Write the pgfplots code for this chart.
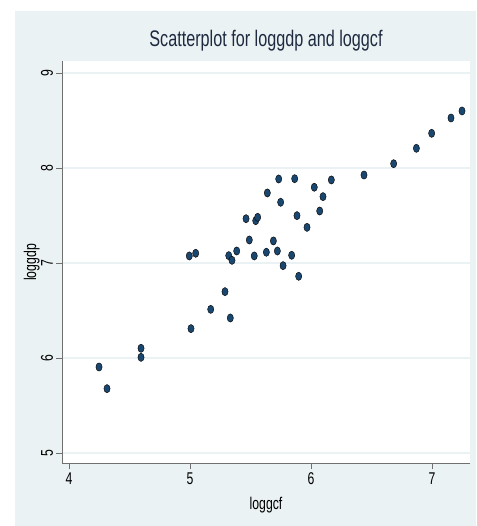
\documentclass[border=0pt]{standalone}
\usepackage{pgfplots}
\pgfplotsset{compat=1.18}
\usepackage{fontspec}
\setmainfont{Liberation Sans}[FakeStretch=0.72]
\definecolor{bgcol}{HTML}{EAF2F3}
\definecolor{mk}{HTML}{1A476F}
\definecolor{ttl}{HTML}{1E2A40}
\definecolor{axc}{HTML}{707070}
\begin{document}
\begin{tikzpicture}[x=1pt,y=1pt]
\fill[white] (0,0) rectangle (476,526);
\fill[bgcol] (15,0) rectangle (476,515);
\begin{axis}[
  at={(62pt,62pt)}, anchor=south west,
  scale only axis, width=408pt, height=403pt,
  xmin=3.942, xmax=7.314, ymin=4.884, ymax=9.126,
  axis background/.style={fill=white},
  axis x line*=bottom, axis y line*=left,
  axis line style={axc, line width=1pt, -},
  xtick={4,5,6,7}, ytick={5,6,7,8,9},
  tick align=outside, major tick length=5.5pt,
  tick style={axc, line width=0.9pt},
  ymajorgrids, grid style={bgcol, line width=1.6pt},
  /pgf/number format/assume math mode=true,
  ticklabel style={font=\fontsize{17}{17}\selectfont, black},
  yticklabel style={rotate=90, anchor=south},
  xticklabel style={anchor=north},
  title={Scatterplot for loggdp and loggcf},
  title style={at={(axis description cs:0.5,1.0223)}, anchor=base, font=\fontsize{22.5}{22.5}\selectfont, ttl},
  xlabel={loggcf},
  xlabel style={at={(axis description cs:0.5,-0.1117)}, anchor=base, font=\fontsize{17}{17}\selectfont, black},
  ylabel={loggdp},
  ylabel style={at={(axis description cs:-0.0637,0.5)}, anchor=base, font=\fontsize{17}{17}\selectfont, black},
  clip=false,
]
\addplot[only marks, mark=*, mark size=3.1pt, mark options={yscale=1.33, fill=mk, draw=none}] coordinates {
(4.248,5.905) (4.314,5.677) (4.595,6.102) (4.595,6.007) (4.994,7.074)
(5.047,7.102) (5.008,6.309) (5.171,6.512) (5.289,6.698) (5.333,6.421)
(5.320,7.077) (5.347,7.028) (5.386,7.126) (5.463,7.466) (5.490,7.242)
(5.531,7.074) (5.543,7.445) (5.559,7.481) (5.631,7.113) (5.639,7.737)
(5.689,7.232) (5.722,7.126) (5.733,7.884) (5.749,7.639) (5.769,6.972)
(5.840,7.081) (5.865,7.887) (5.884,7.498) (5.898,6.860) (5.967,7.375)
(6.027,7.797) (6.072,7.547) (6.099,7.698) (6.168,7.874) (6.438,7.926)
(6.683,8.045) (6.871,8.207) (6.997,8.365) (7.157,8.526) (7.248,8.600)
};
\end{axis}
\pgfresetboundingbox
\path[use as bounding box] (0,0) rectangle (476,526);
\end{tikzpicture}
\end{document}
